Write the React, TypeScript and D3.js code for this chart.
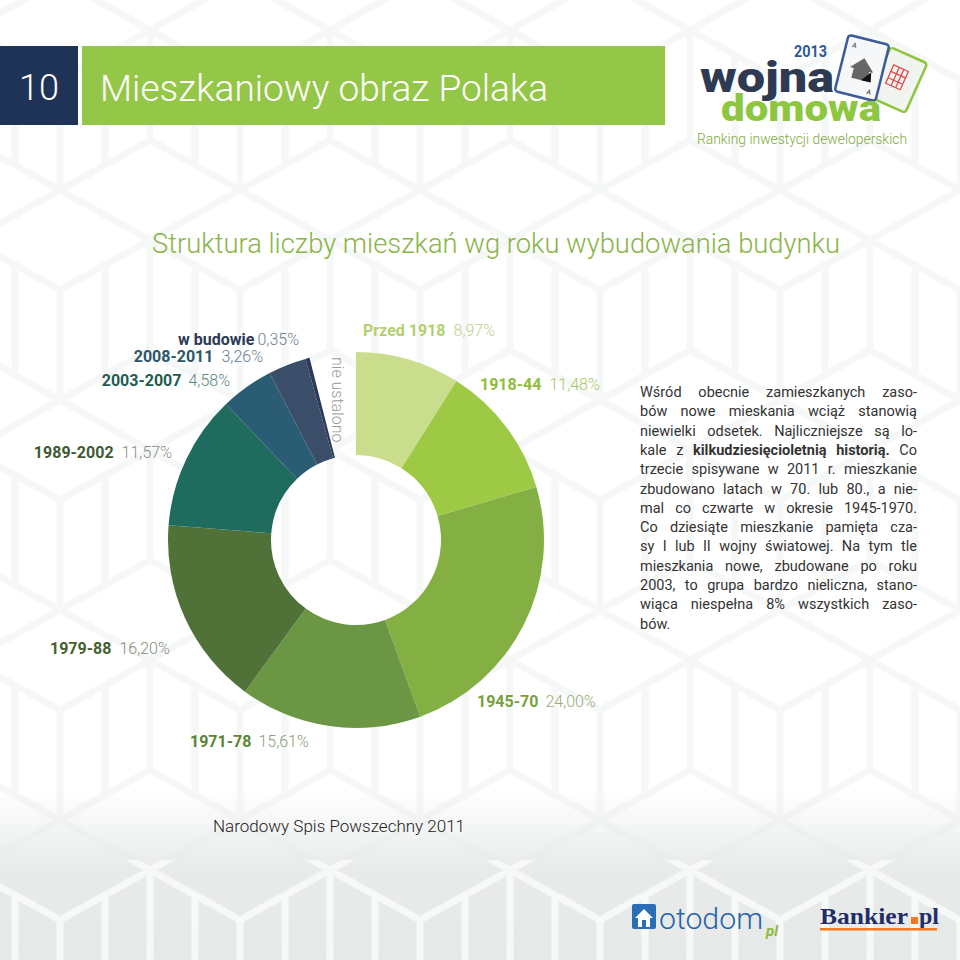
import React from 'react';
import * as d3 from 'd3';

// ---- data ----
const categories = ['Przed 1918', '1918-44', '1945-70', '1971-78', '1979-88', '1989-2002', '2003-2007', '2008-2011', 'w budowie'];
const values = [8.97, 11.48, 24.0, 15.61, 16.2, 11.57, 4.58, 3.26, 0.35];
const valueLabels = ['8,97%', '11,48%', '24,00%', '15,61%', '16,20%', '11,57%', '4,58%', '3,26%', '0,35%'];
const unassignedLabel = 'nie ustalono';
const unassignedValue = 3.98;

const headerNumber = '10';
const headerTitle = 'Mieszkaniowy obraz Polaka';
const subtitle = 'Struktura liczby mieszkań wg roku wybudowania budynku';
const sourceText = 'Narodowy Spis Powszechny 2011';
const rankingText = 'Ranking inwestycji deweloperskich';

// paragraph lines: [text, bold?] segments
const paragraph: { w: string; b?: boolean }[][] = [
  'Wśród obecnie zamieszkanych zaso-',
  'bów nowe mieskania wciąż stanowią',
  'niewielki odsetek. Najliczniejsze są lo-',
  null,
  'trzecie spisywane w 2011 r. mieszkanie',
  'zbudowano latach w 70. lub 80., a nie-',
  'mal co czwarte w okresie 1945-1970.',
  'Co dziesiąte mieszkanie pamięta cza-',
  'sy I lub II wojny światowej. Na tym tle',
  'mieszkania nowe, zbudowane po roku',
  '2003, to grupa bardzo nieliczna, stano-',
  'wiąca niespełna 8% wszystkich zaso-',
  'bów.',
].map((l) =>
  l === null
    ? [{ w: 'kale' }, { w: 'z' }, { w: 'kilkudziesięcioletnią', b: true }, { w: 'historią.', b: true }, { w: 'Co' }]
    : l.split(' ').map((w) => ({ w }))
);

// ---- styles / layout ----
const sliceColors = ['#c9dd8c', '#9ec944', '#84b043', '#6b9643', '#507239', '#1f6b5d', '#2a5d73', '#3a4e69', '#2b3a5a'];
const labelColors = ['#b4cf6e', '#8fbd3c', '#7aa03e', '#5b8438', '#445f30', '#3f5934', '#1d5c52', '#2b566a', '#2c3a55'];
const pctColors = ['#bdd386', '#a3c765', '#98ad78', '#889d78', '#848d7b', '#8a8d82', '#5a8882', '#687f92', '#717d90'];
const labelLayout = [
  { x: 363, y: 336, anchor: 'start', gap: 8 },
  { x: 480, y: 390, anchor: 'start', gap: 8 },
  { x: 477, y: 707, anchor: 'start', gap: 7 },
  { x: 190, y: 747, anchor: 'start', gap: 7 },
  { x: 50, y: 654, anchor: 'start', gap: 8 },
  { x: 172, y: 458, anchor: 'end', gap: 8 },
  { x: 230, y: 386, anchor: 'end', gap: 7 },
  { x: 263, y: 362, anchor: 'end', gap: 8 },
  { x: 299, y: 345, anchor: 'end', gap: 3 },
];

const FONT = 'Roboto, "Open Sans", sans-serif';
const cx = 356, cy = 540, R = 188, r = 85;

let measureCtx: CanvasRenderingContext2D | null = null;
function measure(text: string, weight: number, size: number) {
  if (!measureCtx) measureCtx = document.createElement('canvas').getContext('2d');
  if (!measureCtx) return text.length * size * 0.5;
  measureCtx.font = `${weight} ${size}px Roboto`;
  return measureCtx.measureText(text).width;
}

export default function App() {
  const pie = d3.pie<number>().sort(null).value((d) => d);
  const arcs = pie([...values, unassignedValue]).slice(0, values.length);
  const arcGen = d3.arc<d3.PieArcDatum<number>>().innerRadius(r).outerRadius(R);

  const px0 = 640, px1 = 917, pTop = 397, pStep = 19.3, pSize = 14.5;
  const paraEls: React.ReactNode[] = [];
  paragraph.forEach((words, li) => {
    const widths = words.map((w) => measure(w.w, w.b ? 700 : 400, pSize));
    const total = widths.reduce((a, b) => a + b, 0);
    const last = li === paragraph.length - 1;
    const gap = last || words.length < 2 ? measure(' ', 400, pSize) : (px1 - px0 - total) / (words.length - 1);
    let x = px0;
    words.forEach((w, wi) => {
      paraEls.push(
        <text key={`p${li}-${wi}`} x={x} y={pTop + li * pStep} fontSize={pSize} fontWeight={w.b ? 700 : 400} fill="#333" fontFamily={FONT}>
          {w.w}
        </text>
      );
      x += widths[wi] + gap;
    });
  });

  const cubePath =
    'M0,50 L90,0 L180,50 M0,50 L0,160 L90,210 L180,160 L180,50 M90,100 L90,210 M0,50 L90,100 L180,50 M45,75 L45,185 M135,75 L135,185';

  return (
    <svg width={960} height={960} style={{ position: 'absolute', left: 0, top: 0, background: '#fff' }}>
      <defs>
        <pattern id="cubes" width={180} height={210} patternUnits="userSpaceOnUse" x={-30} y={-20}>
          <path d={cubePath} fill="none" stroke="#f6f7f7" strokeWidth={7} />
        </pattern>
        <pattern id="cubesW" width={180} height={210} patternUnits="userSpaceOnUse" x={-30} y={-20}>
          <path d={cubePath} fill="none" stroke="#f7f8f8" strokeWidth={7} />
        </pattern>
        <linearGradient id="bottomGrey" x1="0" y1="0" x2="0" y2="1">
          <stop offset="0" stopColor="#e9ebeb" stopOpacity={0} />
          <stop offset="0.45" stopColor="#e9ebeb" stopOpacity={1} />
          <stop offset="1" stopColor="#e7e9e9" stopOpacity={1} />
        </linearGradient>
      </defs>

      {/* background */}
      <rect x={0} y={0} width={960} height={960} fill="#fff" />
      <rect x={0} y={0} width={960} height={960} fill="url(#cubes)" />
      <rect x={0} y={790} width={960} height={170} fill="url(#bottomGrey)" />
      <rect x={0} y={860} width={960} height={100} fill="url(#cubesW)" />

      {/* header */}
      <rect x={0} y={46} width={78} height={79} fill="#1f3356" />
      <text x={39} y={100} textAnchor="middle" fontSize={36} fontWeight={300} fill="#fff" fontFamily={FONT}>
        {headerNumber}
      </text>
      <rect x={82} y={46} width={583} height={79} fill="#94c748" />
      <text x={100} y={101} fontSize={37} fontWeight={300} fill="#fff" fontFamily={FONT} textLength={448} lengthAdjust="spacingAndGlyphs">
        {headerTitle}
      </text>

      {/* logo */}
      <g>
        <g transform="translate(898,80) rotate(24)">
          <rect x={-20} y={-27} width={40} height={54} rx={3} fill="#f2f4f0" stroke="#8dc63f" strokeWidth={2.5} />
          <g stroke="#e04848" strokeWidth={1.3} fill="none">
            <rect x={-10} y={-12} width={16} height={20} />
            <line x1={-10} y1={-5} x2={6} y2={-5} />
            <line x1={-10} y1={2} x2={6} y2={2} />
            <line x1={-4} y1={-12} x2={-4} y2={8} />
            <line x1={1} y1={-12} x2={1} y2={8} />
          </g>
        </g>
        <g transform="translate(862,68) rotate(14)">
          <rect x={-21} y={-29} width={42} height={58} rx={3} fill="#f6f7f8" stroke="#3b5a9a" strokeWidth={2.5} />
          <path d="M-12,2 L0,-10 L12,2 L8,2 L8,12 L-8,12 L-8,2 Z" fill="#666" />
          <path d="M2,12 L10,2 L12,12 Z" fill="#111" />
          <text x={-15} y={-18} fontSize={7} fill="#333" fontFamily={FONT}>A</text>
          <text x={10} y={24} fontSize={7} fill="#333" fontFamily={FONT}>A</text>
        </g>
        <text x={794} y={57} fontSize={17} fontWeight={700} fill="#2c5b9a" fontFamily={FONT} textLength={33} lengthAdjust="spacingAndGlyphs">2013</text>
        <text x={700} y={92} fontSize={42} fontWeight={900} fill="#2d3a52" fontFamily={FONT} textLength={134} lengthAdjust="spacingAndGlyphs">
          wojna
        </text>
        <text x={721} y={121} fontSize={36} fontWeight={900} fill="#8dc63f" fontFamily={FONT} textLength={160} lengthAdjust="spacingAndGlyphs">
          domowa
        </text>
        <text x={697} y={144} fontSize={14} fontWeight={300} fill="#7aab3a" fontFamily={FONT} textLength={210} lengthAdjust="spacingAndGlyphs">
          {rankingText}
        </text>
      </g>

      {/* subtitle */}
      <text x={152} y={253} fontSize={28} fontWeight={300} fill="#8ab447" fontFamily={FONT} textLength={688} lengthAdjust="spacingAndGlyphs">
        {subtitle}
      </text>

      {/* donut */}
      <g transform={`translate(${cx},${cy})`}>
        {arcs.map((a, i) => (
          <path key={categories[i]} d={arcGen(a) || ''} fill={sliceColors[i]} />
        ))}
      </g>

      {/* labels */}
      {categories.map((c, i) => {
        const L = labelLayout[i];
        return (
          <text key={`l${c}`} x={L.x} y={L.y} textAnchor={L.anchor as any} fontSize={16} fontFamily={FONT}>
            <tspan fontWeight={700} fill={labelColors[i]}>{c}</tspan>
            <tspan dx={L.gap} fontWeight={300} fill={pctColors[i]}>{valueLabels[i]}</tspan>
          </text>
        );
      })}
      <text transform="translate(332,357) rotate(90)" fontSize={16} fontWeight={300} fill="#9a9a9a" fontFamily={FONT}>
        {unassignedLabel}
      </text>

      {/* paragraph */}
      {paraEls}

      {/* source */}
      <text x={213} y={832} fontSize={17} fontWeight={300} fill="#222" fontFamily={FONT}>
        {sourceText}
      </text>

      {/* partner logos */}
      <g>
        <rect x={632} y={904} width={24} height={25} rx={2} fill="#2a6fb5" />
        <path d="M635,918 L644,909 L653,918 L650,918 L650,927 L638,927 L638,918 Z" fill="#fff" />
        <rect x={642} y={920} width={4} height={7} fill="#2a6fb5" />
        <text x={659} y={929} fontSize={30} fontWeight={300} fill="#1e64ad" fontFamily={FONT} textLength={104} lengthAdjust="spacingAndGlyphs">otodom</text>
        <text x={766} y={936} fontSize={15} fontStyle="italic" fontWeight={700} fill="#8dbb3a" fontFamily={FONT}>pl</text>

        <text x={820} y={924} fontSize={24} fontWeight={700} fill="#1f2d6b" fontFamily={'"Liberation Serif", "DejaVu Serif", serif'} textLength={88} lengthAdjust="spacingAndGlyphs">
          Bankier
        </text>
        <rect x={911} y={917} width={7} height={7} fill="#f07b22" />
        <text x={919} y={924} fontSize={24} fontWeight={700} fill="#1f2d6b" fontFamily={'"Liberation Serif", "DejaVu Serif", serif'}>
          pl
        </text>
        <rect x={820} y={928} width={117} height={2.5} fill="#f07b22" />
      </g>
    </svg>
  );
}
